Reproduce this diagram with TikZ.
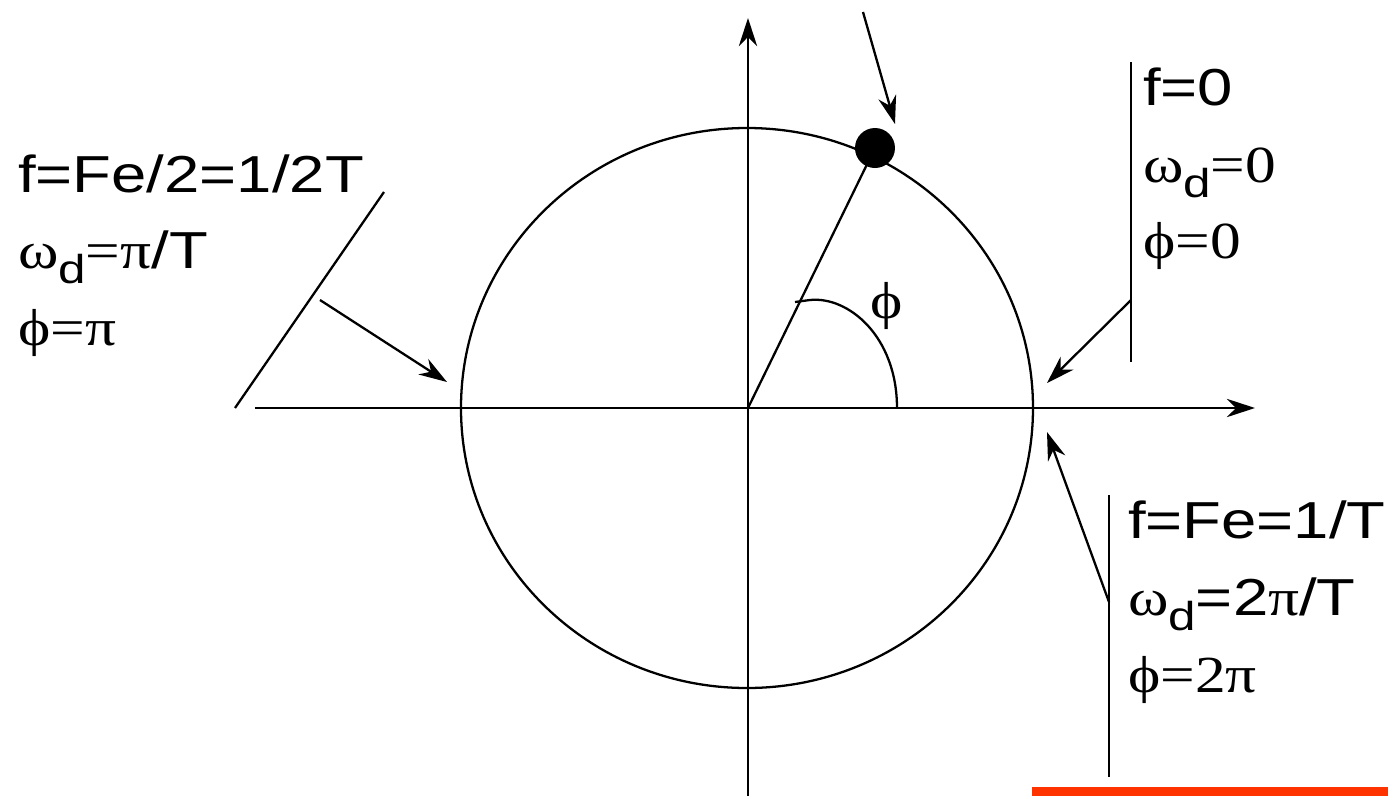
\documentclass[tikz,border=0pt]{standalone}
\usepackage{fontspec}
\setmainfont[FakeStretch=1.22]{Liberation Sans}
\newfontfamily\grk[FakeStretch=1.18]{Liberation Serif}
\usetikzlibrary{arrows.meta}

\definecolor{barred}{RGB}{255,51,0}
\newcommand{\omd}{{\grk ω}\raisebox{-4.5pt}{\fontsize{11.5}{12}\selectfont d}}
\newcommand{\ph}{{\grk ϕ}}

\tikzset{
	ptr/.style={-{Stealth[length=8pt,width=5.2pt,inset=2.6pt]}},
	lbl/.style={anchor=base west,inner sep=0pt,font=\fontsize{14.8}{18}\selectfont}
}

\begin{document}
\begin{tikzpicture}[line width=0.65pt]
		\useasboundingbox (-7.48,-3.88) rectangle (6.40,4.08);
		
		\coordinate (O) at (0,0);
		\coordinate (xl) at (-4.93,0);
		\coordinate (xr) at (5.07,0);
		\coordinate (yb) at (0,-3.88);
		\coordinate (yt) at (0,3.90);
		
		% axes and circle
		\draw[ptr] (xl) -- (xr);
		\draw[ptr] (yb) -- (yt);
		\draw (-0.01,0) ellipse [x radius=2.86, y radius=2.80];
		
		% point on the circle
		\node[circle,fill,inner sep=0pt,minimum size=0.40cm] (pt) at (1.27,2.60) {};
		\draw (O) -- (pt.center);
		\coordinate (ptsrc) at (1.15,3.96);
		\draw[ptr] (ptsrc) -- (1.47,2.84);
		
		% angle
		\coordinate (a0) at (1.49,0);
		\coordinate (a1) at (0.47,1.06);
		\draw (a0) .. controls (1.49,0.72) and (1.00,1.12) .. (0.62,1.08) -- (a1);
		\node[inner sep=0pt,font=\fontsize{14.8}{18}\selectfont] (phi) at (1.39,1.02) {\ph};
		
		% f = Fe/2
		\coordinate (l1) at (-5.13,0);
		\coordinate (l2) at (-3.64,2.16);
		\draw (l1) -- (l2);
		\coordinate (lf) at (-4.28,1.08);
		\coordinate (lt) at (-3.01,0.26);
		\draw[ptr] (lf) -- (lt);
		\node[lbl] (half1) at (-7.31,2.16) {f=Fe/2=1/2T};
		\node[lbl] (half2) at (-7.31,1.40) {\omd{\grk =π}/T};
		\node[lbl] (half3) at (-7.31,0.63) {\ph{\grk =π}};
		
		% f = 0
		\coordinate (r1) at (3.83,3.46);
		\coordinate (r2) at (3.83,0.46);
		\draw (r1) -- (r2);
		\coordinate (rf) at (3.83,1.08);
		\coordinate (rt) at (2.99,0.25);
		\draw[ptr] (rf) -- (rt);
		\node[lbl] (zero1) at (3.94,3.03) {f=0};
		\node[lbl] (zero2) at (3.94,2.26) {\omd{\grk =0}};
		\node[lbl] (zero3) at (3.94,1.50) {\ph{\grk =0}};
		
		% f = Fe
		\coordinate (s1) at (3.61,-0.87);
		\coordinate (s2) at (3.61,-3.69);
		\draw (s1) -- (s2);
		\coordinate (sf) at (3.61,-1.94);
		\coordinate (st) at (2.99,-0.24);
		\draw[ptr] (sf) -- (st);
		\node[lbl] (full1) at (3.79,-1.30) {f=Fe=1/T};
		\node[lbl] (full2) at (3.79,-2.07) {\omd=2{\grk π}/T};
		\node[lbl] (full3) at (3.79,-2.84) {\ph{\grk =2π}};
		
		\fill[barred] (2.84,-3.79) rectangle (6.40,-3.88);
	\end{tikzpicture}
\end{document}
